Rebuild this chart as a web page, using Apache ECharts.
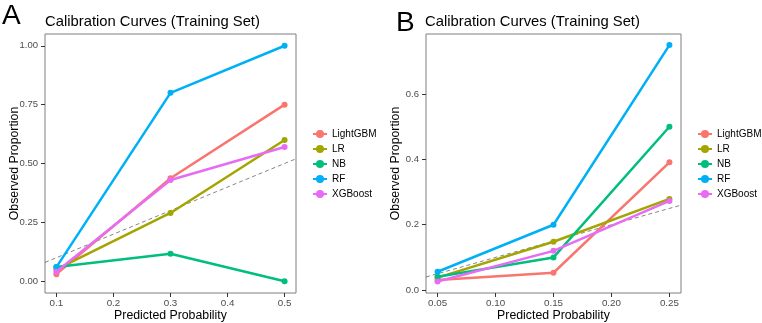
<!DOCTYPE html>
<html>
<head>
<meta charset="utf-8">
<script src="https://cdn.jsdelivr.net/npm/echarts@6/dist/echarts.min.js"></script>
<style>
  html, body { margin: 0; padding: 0; background: #fff; }
  #chart { width: 762px; height: 323px; }
</style>
</head>
<body>
<div id="chart"></div>
<script>
// model names and ggplot hue colours
var models = ['LightGBM', 'LR', 'NB', 'RF', 'XGBoost'];
var colors = ['#F8766D', '#A3A500', '#00BF7D', '#00B0F6', '#E76BF3'];

// panel A
var xA = [0.1, 0.3, 0.5];
var lightgbmA = [0.03, 0.4375, 0.75];
var lrA = [0.05, 0.29, 0.6];
var nbA = [0.06, 0.117, 0];
var rfA = [0.06, 0.8, 1.0];
var xgbA = [0.04, 0.43, 0.57];
var diagA = [0.08, 0.52];
var xTicksA = [0.1, 0.2, 0.3, 0.4, 0.5];
var yTicksA = [0, 0.25, 0.5, 0.75, 1.0];

// panel B
var xB = [0.05, 0.15, 0.25];
var lightgbmB = [0.031, 0.053, 0.391];
var lrB = [0.038, 0.148, 0.279];
var nbB = [0.041, 0.10, 0.50];
var rfB = [0.056, 0.20, 0.75];
var xgbB = [0.026, 0.12, 0.273];
var diagB = [0.04, 0.26];
var xTicksB = [0.05, 0.10, 0.15, 0.20, 0.25];
var yTicksB = [0, 0.2, 0.4, 0.6];

var seriesA = [lightgbmA, lrA, nbA, rfA, xgbA];
var seriesB = [lightgbmB, lrB, nbB, rfB, xgbB];

var font = 'Liberation Sans, Arial, sans-serif';
var chart = echarts.init(document.getElementById('chart'));

function pairs(xs, ys) {
  return xs.map(function (x, i) { return [x, ys[i]]; });
}

function makeX(idx, min, max, ticks, digits) {
  return {
    type: 'value', gridIndex: idx, min: min, max: max,
    name: 'Predicted Probability', nameLocation: 'middle', nameGap: 17, nameMoveOverlap: false,
    nameTextStyle: { fontFamily: font, fontSize: 12.3, color: '#000' },
    splitLine: { show: false },
    axisLine: { show: false, onZero: false },
    axisTick: { show: true, length: 4, customValues: ticks, lineStyle: { color: '#333' } },
    axisLabel: {
      customValues: ticks, fontFamily: font, fontSize: 9.8, color: '#4D4D4D', margin: 5,
      formatter: function (v) { return v.toFixed(digits); }
    }
  };
}

function makeY(idx, min, max, ticks, digits) {
  return {
    type: 'value', gridIndex: idx, min: min, max: max,
    name: 'Observed Proportion', nameLocation: 'middle', nameGap: 24, nameMoveOverlap: false,
    nameTextStyle: { fontFamily: font, fontSize: 12.3, color: '#000' },
    splitLine: { show: false },
    axisLine: { show: false, onZero: false },
    axisTick: { show: true, length: 4, customValues: ticks, lineStyle: { color: '#333' } },
    axisLabel: {
      customValues: ticks, fontFamily: font, fontSize: 9.5, color: '#4D4D4D', margin: 7,
      formatter: function (v) { return v.toFixed(digits); }
    }
  };
}

var series = [];
function addPanel(idx, xs, data, diag) {
  series.push({
    type: 'line', xAxisIndex: idx, yAxisIndex: idx, name: 'diag' + idx,
    data: pairs(diag, diag), symbol: 'none', silent: true,
    lineStyle: { color: '#666', width: 0.8, type: [4, 3] }, z: 1
  });
  data.forEach(function (ys, i) {
    series.push({
      type: 'line', xAxisIndex: idx, yAxisIndex: idx, name: models[i],
      data: pairs(xs, ys), symbol: 'circle', symbolSize: 6,
      itemStyle: { color: colors[i] },
      lineStyle: { color: colors[i], width: 2.5 }, z: 2 + i
    });
  });
}
addPanel(0, xA, seriesA, diagA);
addPanel(1, xB, seriesB, diagB);

function makeLegend(left) {
  return {
    data: models, orient: 'vertical', left: left, top: 124,
    itemWidth: 14, itemHeight: 10, itemGap: 5,
    textStyle: { fontFamily: font, fontSize: 10, color: '#000' }
  };
}

var titleStyle = { fontFamily: font, fontWeight: 'normal', color: '#000' };
var option = {
  backgroundColor: '#fff',
  animation: false,
  title: [
    { text: 'A', left: 2, top: 2, padding: 0, textStyle: Object.assign({ fontSize: 28 }, titleStyle) },
    { text: 'Calibration Curves (Training Set)', left: 45, top: 14, padding: 0, textStyle: Object.assign({ fontSize: 14.8 }, titleStyle) },
    { text: 'B', left: 396, top: 9, padding: 0, textStyle: Object.assign({ fontSize: 28 }, titleStyle) },
    { text: 'Calibration Curves (Training Set)', left: 425, top: 14, padding: 0, textStyle: Object.assign({ fontSize: 14.8 }, titleStyle) }
  ],
  legend: [makeLegend(307), makeLegend(692)],
  grid: [
    { left: 45, top: 34, width: 251, height: 259, outerBoundsMode: 'none', show: true, borderColor: '#7F7F7F', borderWidth: 1, backgroundColor: 'transparent' },
    { left: 426, top: 34, width: 255, height: 259, outerBoundsMode: 'none', show: true, borderColor: '#7F7F7F', borderWidth: 1, backgroundColor: 'transparent' }
  ],
  xAxis: [makeX(0, 0.08, 0.52, xTicksA, 1), makeX(1, 0.04, 0.26, xTicksB, 2)],
  yAxis: [makeY(0, -0.05, 1.05, yTicksA, 2), makeY(1, -0.009, 0.784, yTicksB, 1)],
  series: series
};
chart.setOption(option);
</script>
</body>
</html>
